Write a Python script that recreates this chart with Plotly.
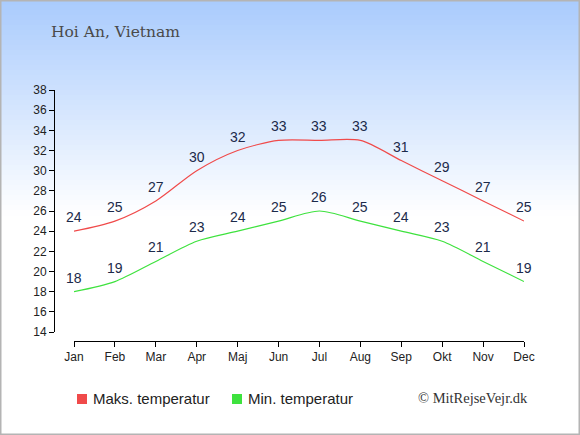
import plotly.graph_objects as go

# chart data
MONTHS = ['Jan', 'Feb', 'Mar', 'Apr', 'Maj', 'Jun', 'Jul', 'Aug', 'Sep', 'Okt', 'Nov', 'Dec']
MAX_TEMP = [24, 25, 27, 30, 32, 33, 33, 33, 31, 29, 27, 25]
MIN_TEMP = [18, 19, 21, 23, 24, 25, 26, 25, 24, 23, 21, 19]
MAX_NAME = 'Maks. temperatur'
MIN_NAME = 'Min. temperatur'
TITLE = 'Hoi An, Vietnam'
CREDIT = '\u00a9 MitRejseVejr.dk'

RED = '#f04a4a'
GREEN = '#3ee23e'
LABEL_COLOR = '#1c2a4a'

W, H = 580, 435
L, R, T, B = 54, 56, 90, 94
PW, PH = W - L - R, H - T - B


def px(x):
    return (x - L) / PW


def py(y):
    return (H - B - y) / PH


def gradient_shapes(top=(169, 203, 253), stop=215, steps=43):
    shapes = []
    h = stop / steps
    for i in range(steps):
        f = (i + 0.5) / steps
        c = [round(t + (255 - t) * f) for t in top]
        shapes.append(dict(
            type='rect', xref='paper', yref='paper', layer='below',
            x0=px(0), x1=px(W), y0=py(i * h + h + 0.5), y1=py(i * h),
            line_width=0, fillcolor='rgb(%d,%d,%d)' % tuple(c)))
    return shapes


fig = go.Figure(
    data=[
        go.Scatter(
            x=MONTHS, y=MAX_TEMP, name=MAX_NAME, mode='lines',
            line=dict(color=RED, width=1.2, shape='spline', smoothing=0.8),
            showlegend=False, hoverinfo='skip'),
        go.Scatter(
            x=MONTHS, y=MIN_TEMP, name=MIN_NAME, mode='lines',
            line=dict(color=GREEN, width=1.2, shape='spline', smoothing=0.8),
            showlegend=False, hoverinfo='skip'),
    ])

annotations = []
for series in (MAX_TEMP, MIN_TEMP):
    for m, v in zip(MONTHS, series):
        annotations.append(dict(
            x=m, y=v, text=str(v), showarrow=False, yshift=14,
            font=dict(family='Liberation Sans, Arial', size=14, color=LABEL_COLOR)))

annotations += [
    dict(xref='paper', yref='paper', x=px(49), y=py(32), xanchor='left', yanchor='middle',
         text=TITLE, showarrow=False,
         font=dict(family='DejaVu Serif', size=15.5, color='#4a4a4a')),
    dict(xref='paper', yref='paper', x=px(91), y=py(398), xanchor='left', yanchor='middle',
         text=MAX_NAME, showarrow=False,
         font=dict(family='Liberation Sans, Arial', size=15, color='#222222')),
    dict(xref='paper', yref='paper', x=px(246), y=py(398), xanchor='left', yanchor='middle',
         text=MIN_NAME, showarrow=False,
         font=dict(family='Liberation Sans, Arial', size=15, color='#222222')),
    dict(xref='paper', yref='paper', x=px(530), y=py(398), xanchor='right', yanchor='middle',
         text=CREDIT, showarrow=False,
         font=dict(family='Liberation Serif', size=14.5, color='#333333')),
]

shapes = gradient_shapes()
shapes += [
    dict(type='rect', xref='paper', yref='paper', x0=px(77), x1=px(87), y0=py(404), y1=py(394),
         line_width=0, fillcolor=RED),
    dict(type='rect', xref='paper', yref='paper', x0=px(232), x1=px(242), y0=py(404), y1=py(394),
         line_width=0, fillcolor=GREEN),
    dict(type='rect', xref='paper', yref='paper', x0=px(0.75), x1=px(W - 0.75), y0=py(H - 0.75), y1=py(0.75),
         line=dict(color='#b4b4b4', width=1.5)),
]

fig.update_layout(
    width=W, height=H,
    margin=dict(l=L, r=R, t=T, b=B, pad=0),
    paper_bgcolor='white',
    plot_bgcolor='rgba(0,0,0,0)',
    showlegend=False,
    xaxis={
        'domain': [20 / PW, 1],
        'range': [0, 11],
        'anchor': 'free',
        'position': 0,
        'showgrid': False,
        'zeroline': False,
        'showline': True,
        'linecolor': 'black',
        'linewidth': 1,
        'ticks': 'outside',
        'ticklen': 5,
        'tickcolor': 'black',
        'tickfont': {'family': 'Liberation Sans, Arial', 'size': 12, 'color': '#222222'},
    },
    yaxis={
        'domain': [9 / PH, 1],
        'range': [14, 38],
        'dtick': 2,
        'anchor': 'free',
        'position': 0,
        'showgrid': False,
        'zeroline': False,
        'showline': True,
        'linecolor': 'black',
        'linewidth': 1,
        'ticks': 'outside',
        'ticklen': 5,
        'tickcolor': 'black',
        'tickfont': {'family': 'Liberation Sans, Arial', 'size': 12, 'color': '#222222'},
    },
    annotations=annotations,
    shapes=shapes,
)

# drop the browser's default page margin so the chart sits at 0,0
fig.write_html('out.html', config={'displayModeBar': False},
               post_script="document.body.style.margin='0';")
